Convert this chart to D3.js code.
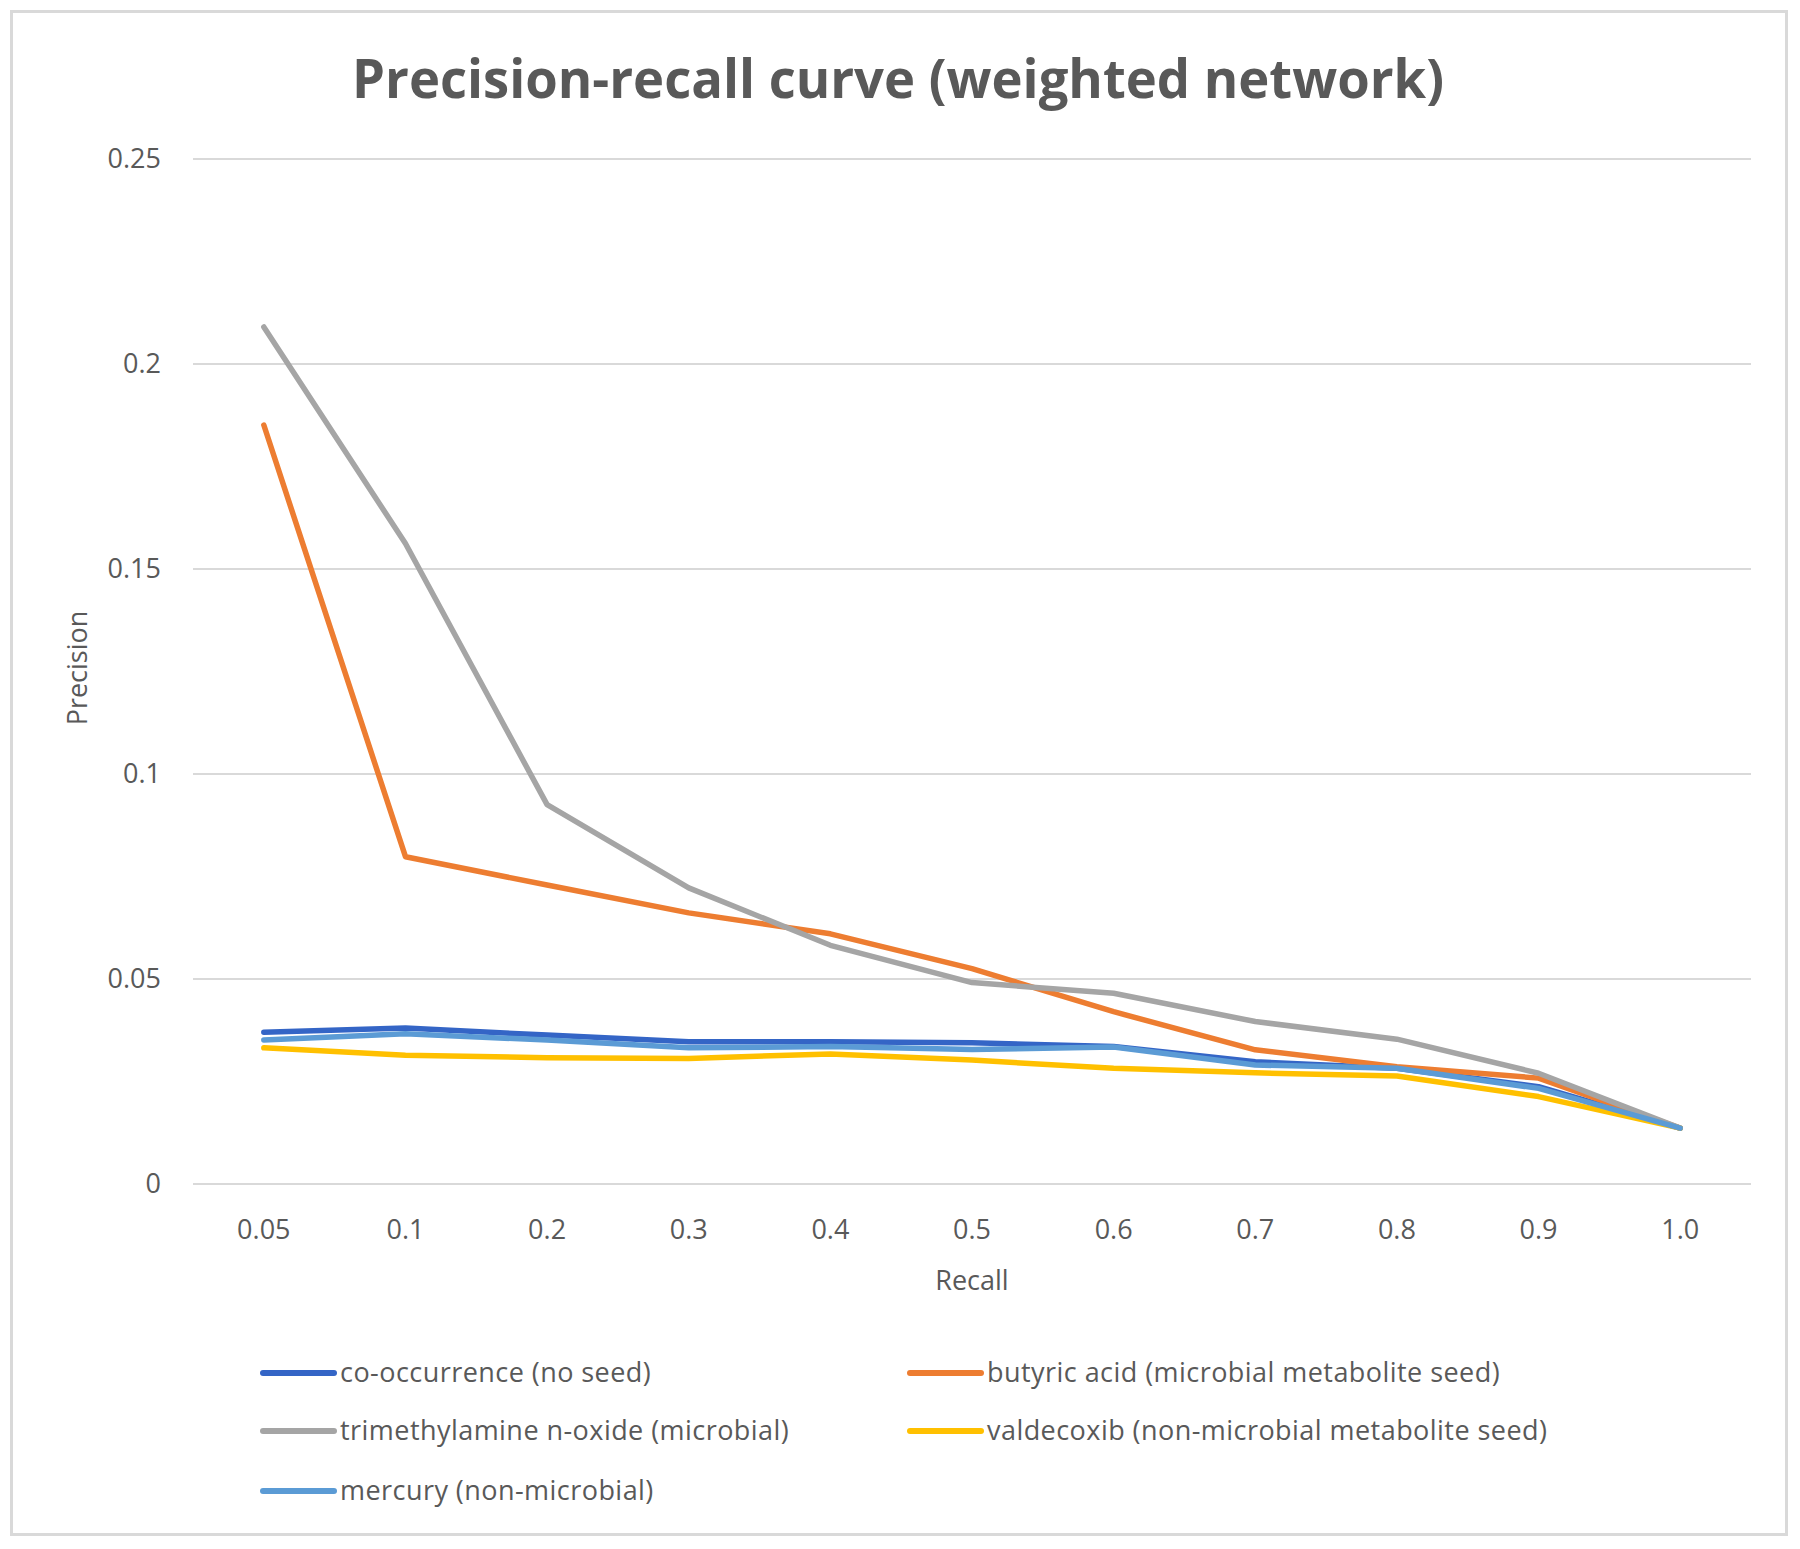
<!DOCTYPE html>
<html>
<head>
<meta charset="utf-8">
<script src="https://cdn.jsdelivr.net/npm/d3@7"></script>
<style>
  html, body { margin: 0; padding: 0; background: #fff; }
  svg { display: block; }
</style>
</head>
<body>
<script>
// ---- data ----
const recall = ["0.05", "0.1", "0.2", "0.3", "0.4", "0.5", "0.6", "0.7", "0.8", "0.9", "1.0"];
const yTicks = [0, 0.05, 0.1, 0.15, 0.2, 0.25];
const yTickLabels = ["0", "0.05", "0.1", "0.15", "0.2", "0.25"];
const seriesNames = [
  "co-occurrence (no seed)",
  "butyric acid (microbial metabolite seed)",
  "trimethylamine n-oxide (microbial)",
  "valdecoxib (non-microbial metabolite seed)",
  "mercury (non-microbial)"
];
const cooccurrence = [0.0369, 0.0379, 0.0362, 0.0346, 0.0346, 0.0343, 0.0334, 0.0297, 0.0281, 0.0236, 0.0135];
const butyricAcid  = [0.185, 0.0797, 0.0728, 0.0660, 0.0609, 0.0524, 0.0419, 0.0326, 0.0285, 0.0257, 0.0135];
const tmao         = [0.2089, 0.1561, 0.0924, 0.0721, 0.0581, 0.0490, 0.0464, 0.0395, 0.0352, 0.0269, 0.0135];
const valdecoxib   = [0.0331, 0.0313, 0.0307, 0.0305, 0.0316, 0.0301, 0.0281, 0.0270, 0.0262, 0.0212, 0.0135];
const mercury      = [0.0350, 0.0365, 0.0350, 0.0331, 0.0334, 0.0327, 0.0333, 0.0289, 0.0281, 0.0232, 0.0135];
const seriesValues = [cooccurrence, butyricAcid, tmao, valdecoxib, mercury];
const colors = ["#3465C6", "#ED7D31", "#A5A5A5", "#FFC000", "#5B9BD5"];

// ---- layout ----
const W = 1800, H = 1549;
const svg = d3.select("body").append("svg").attr("width", W).attr("height", H);
const font = "'Open Sans', sans-serif";
const textColor = "#595959";

svg.append("rect").attr("x", 0).attr("y", 0).attr("width", W).attr("height", H).attr("fill", "#fff");
svg.append("rect").attr("x", 11.5).attr("y", 11.5).attr("width", 1775).attr("height", 1523)
  .attr("fill", "none").attr("stroke", "#d9d9d9").attr("stroke-width", 3);

const x = d3.scaleBand().domain(recall).range([193, 1751]);
const y = d3.scaleLinear().domain([0, 0.25]).range([1183.5, 158.5]);

// gridlines + y axis labels
const yAxis = d3.axisLeft(y).tickValues(yTicks)
  .tickFormat((d, i) => yTickLabels[i])
  .tickSize(-(1751 - 193)).tickPadding(32);
const gy = svg.append("g").attr("transform", "translate(193,0)").call(yAxis);
gy.select(".domain").remove();
gy.selectAll(".tick line").attr("stroke", "#d9d9d9").attr("stroke-width", 2);
gy.selectAll(".tick text").attr("fill", textColor).attr("font-family", font).attr("font-size", 27);

// x axis labels
const xAxis = d3.axisBottom(x).tickSize(0).tickPadding(36);
const gx = svg.append("g").attr("transform", "translate(0,1183.5)").call(xAxis);
gx.select(".domain").remove();
gx.selectAll(".tick text").attr("fill", textColor).attr("font-family", font).attr("font-size", 27);

// lines
const line = d3.line()
  .x((d, i) => x(recall[i]) + x.bandwidth() / 2)
  .y(d => y(d));
seriesValues.forEach((vals, k) => {
  svg.append("path").datum(vals)
    .attr("d", line)
    .attr("fill", "none")
    .attr("stroke", colors[k])
    .attr("stroke-width", 5.5)
    .attr("stroke-linejoin", "round")
    .attr("stroke-linecap", "round");
});

// title
svg.append("text").attr("x", 898).attr("y", 98)
  .attr("text-anchor", "middle")
  .attr("font-family", font).attr("font-weight", "bold").attr("font-size", 54)
  .attr("fill", textColor)
  .attr("textLength", 1092).attr("lengthAdjust", "spacingAndGlyphs")
  .text("Precision-recall curve (weighted network)");

// axis titles
svg.append("text").attr("x", 972).attr("y", 1290)
  .attr("text-anchor", "middle").attr("font-family", font).attr("font-size", 27)
  .attr("fill", textColor).text("Recall");
svg.append("text").attr("transform", "translate(87,668) rotate(-90)")
  .attr("text-anchor", "middle").attr("font-family", font).attr("font-size", 27)
  .attr("fill", textColor).text("Precision");

// legend
const legendPos = [
  [260, 1373], [907, 1373],
  [260, 1431], [907, 1431],
  [260, 1491]
];
seriesNames.forEach((name, k) => {
  const [lx, ly] = legendPos[k];
  svg.append("line").attr("x1", lx + 3).attr("x2", lx + 74).attr("y1", ly).attr("y2", ly)
    .attr("stroke", colors[k]).attr("stroke-width", 6).attr("stroke-linecap", "round");
  svg.append("text").attr("x", lx + 80).attr("y", ly).attr("dy", "0.35em")
    .attr("font-family", font).attr("font-size", 27).attr("fill", textColor)
    .attr("letter-spacing", 0.45)
    .text(name);
});
</script>
</body>
</html>
